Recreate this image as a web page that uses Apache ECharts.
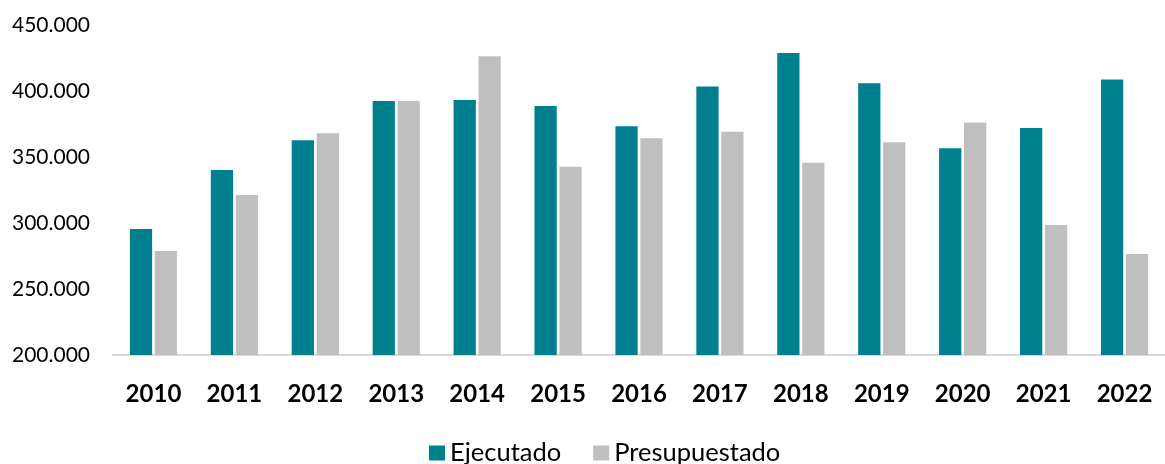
<!DOCTYPE html>
<html>
<head>
<meta charset="utf-8">
<script src="https://cdn.jsdelivr.net/npm/echarts@6/dist/echarts.min.js"></script>
<style>
  html, body { margin: 0; padding: 0; background: #fff; }
  #chart { width: 1165px; height: 464px; }
</style>
</head>
<body>
<div id="chart"></div>
<script>
var years = ['2010', '2011', '2012', '2013', '2014', '2015', '2016', '2017', '2018', '2019', '2020', '2021', '2022'];
var ejecutado = [295500, 340200, 362600, 392400, 393200, 388600, 373300, 403500, 428800, 405800, 356600, 372000, 408800];
var presupuestado = [278800, 321200, 367900, 392400, 426300, 342700, 364200, 369200, 345700, 361100, 376200, 298500, 276500];
var yTicks = [200000, 250000, 300000, 350000, 400000, 450000];

var chart = echarts.init(document.getElementById('chart'));
var font = 'Lato, "Open Sans", sans-serif';

var option = {
  animation: false,
  textStyle: { fontFamily: font },
  grid: { left: 113, right: -10, top: 25, bottom: 109, containLabel: false },
  legend: {
    bottom: -7,
    left: 424,
    itemWidth: 16,
    itemHeight: 15,
    itemGap: 32,
    icon: 'rect',
    textStyle: { fontFamily: font, fontSize: 25.5, color: '#000' },
    data: ['Ejecutado', 'Presupuestado']
  },
  xAxis: {
    type: 'category',
    data: years,
    axisLine: { lineStyle: { color: '#D9D9D9', width: 2 } },
    axisTick: { show: false },
    axisLabel: { fontFamily: font, fontSize: 24, fontWeight: 'bold', color: '#000', margin: 27 }
  },
  yAxis: {
    type: 'value',
    min: yTicks[0],
    max: yTicks[yTicks.length - 1],
    interval: 50000,
    splitLine: { show: false },
    axisLine: { show: false },
    axisTick: { show: false },
    axisLabel: {
      fontFamily: font, fontSize: 21, color: '#000', margin: 23,
      formatter: function (v) { return (v / 1000).toFixed(0) + '.000'; }
    }
  },
  series: [
    {
      name: 'Ejecutado',
      type: 'bar',
      data: ejecutado,
      barWidth: '27.5%',
      barGap: '12%',
      itemStyle: { color: '#00808F' }
    },
    {
      name: 'Presupuestado',
      type: 'bar',
      data: presupuestado,
      barWidth: '27.5%',
      itemStyle: { color: '#BFBFBF' }
    }
  ]
};

chart.setOption(option);
</script>
</body>
</html>
